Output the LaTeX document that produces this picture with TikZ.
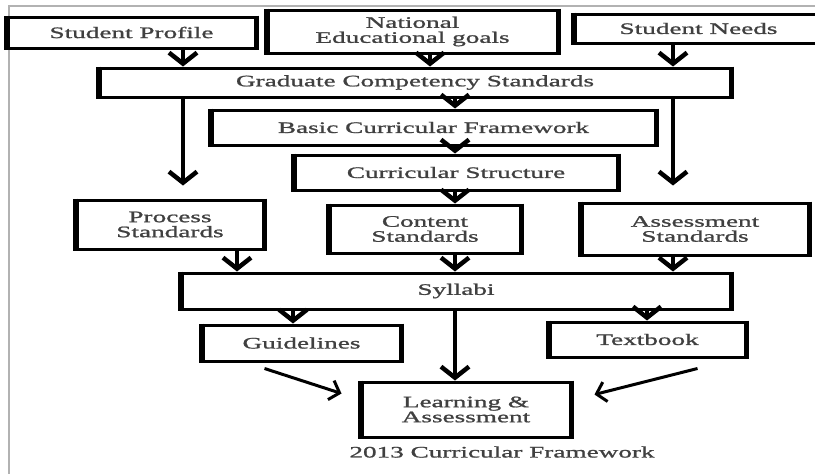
\documentclass[tikz,border=0pt]{standalone}
\usepackage{fontspec}
\setmainfont{Liberation Serif}[FakeStretch=1.7,FakeBold=1.2]
\usetikzlibrary{arrows.meta,positioning,calc}

\tikzset{
  box/.style={draw, line width=3pt, fill=white, inner sep=0pt, align=center,
    font=\fontsize{16}{15}\selectfont, text=black!75},
  down/.style={line width=4.5pt, -{Straight Barb[length=11pt,width=28pt]}},
  slant/.style={line width=3pt, -{Straight Barb[length=9pt,width=20pt]}},
}

\begin{document}
\begin{tikzpicture}[x=1pt, y=-1pt]
    \clip (0,0) rectangle (815,474);
    % frame
    \draw[gray!60, line width=1.2pt] (815,6) -- (9,6) -- (9,474);

    % top row
    \node[box, minimum width=247pt, minimum height=31pt] (prof) at (131.5,32.5) {Student Profile};
    \node[box, minimum width=289pt, minimum height=43pt] (goals) at (412.5,31.5) {National\\Educational goals};
    \node[box, minimum width=247pt, minimum height=29pt] (needs) at (698.5,28.5) {Student Needs};

    % middle column
    \node[box, minimum width=630pt, minimum height=29pt] (grad) at (415,82.5) {Graduate Competency Standards};
    \node[box, minimum width=443pt, minimum height=35pt] (basic) at (433.5,127.5) {Basic Curricular Framework};
    \node[box, minimum width=322pt, minimum height=35pt] (struct) at (456,172.5) {Curricular Structure};

    % standards
    \node[box, minimum width=186pt, minimum height=49pt] (proc) at (170,224.5) {Process\\Standards};
    \node[box, minimum width=190pt, minimum height=48pt] (content) at (425,229) {Content\\Standards};
    \node[box, minimum width=226pt, minimum height=52pt] (assess) at (695,229) {Assessment\\Standards};

    \node[box, minimum width=548pt, minimum height=36pt] (syl) at (456,291) {Syllabi};
    \node[box, minimum width=197pt, minimum height=36pt] (guid) at (301.5,343) {Guidelines};
    \node[box, minimum width=195pt, minimum height=35pt] (tb) at (647.5,339.5) {Textbook};
    \node[box, minimum width=208pt, minimum height=55pt] (learn) at (466,409.5) {Learning \&\\Assessment};

    \node[font=\fontsize{16}{15}\selectfont, text=black!75] (cap) at (502,452) {2013 Curricular Framework};

    % heavier side edges
    \foreach \n in {prof,goals,needs,grad,basic,struct,proc,content,assess,syl,guid,tb,learn}
        \draw[line width=5pt] (\n.north west) -- (\n.south west) (\n.north east) -- (\n.south east);

    % arrow columns
    \coordinate (colL) at (183,0);
    \coordinate (colN) at (430,0);
    \coordinate (colM) at (455,0);
    \coordinate (colR) at (673,0);
    \coordinate (colP) at (237,0);
    \coordinate (colG) at (293,0);
    \coordinate (colT) at (647,0);

    \draw[down] (prof.south -| colL) -- (grad.north -| colL);
    \draw[down] (goals.south -| colN) -- (grad.north -| colN);
    \draw[down] (needs.south -| colR) -- (grad.north -| colR);
    \draw[down] (grad.south -| colM) -- (basic.north -| colM);
    \draw[down] (basic.south -| colM) -- (struct.north -| colM);
    \draw[down] (struct.south -| colM) -- (content.north -| colM);
    \draw[down] (grad.south -| colL) -- ($(proc.north -| colL)+(0,-13)$);
    \draw[down] (grad.south -| colR) -- ($(assess.north -| colR)+(0,-16)$);

    \draw[down] (proc.south -| colP) -- (syl.north -| colP);
    \draw[down] (content.south -| colM) -- (syl.north -| colM);
    \draw[down] (assess.south -| colR) -- (syl.north -| colR);

    \draw[down] (syl.south -| colG) -- (guid.north -| colG);
    \draw[down] (syl.south -| colT) -- (tb.north -| colT);
    \draw[down] (syl.south -| colM) -- (learn.north -| colM);

    \draw[slant] ($(guid.south)+(-37,6)$) -- ($(learn.west)+(-19,-16)$);
    \draw[slant] ($(tb.south)+(50,10)$) -- ($(learn.east)+(23,-15)$);
\end{tikzpicture}
\end{document}
